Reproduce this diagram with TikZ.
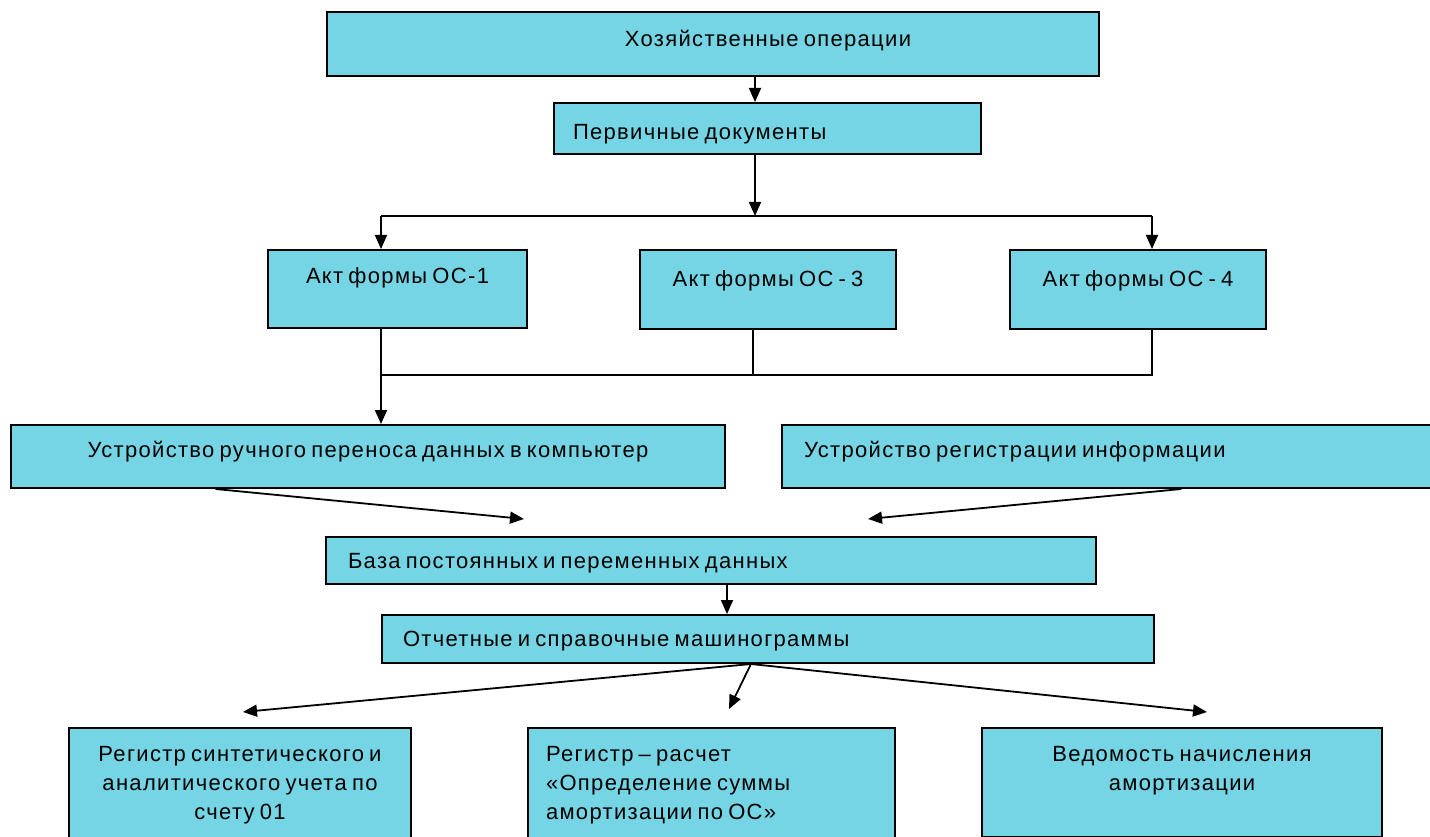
\documentclass[tikz,border=0pt]{standalone}
\usepackage{fontspec}
\setmainfont{Liberation Sans}[WordSpace=0.7, LetterSpace=6]
\usetikzlibrary{arrows.meta,calc}

\definecolor{boxfill}{RGB}{117,213,228}
\tikzstyle{block}=[draw=black, fill=boxfill, line width=2pt, inner ysep=0pt, anchor=north west, font=\fontsize{22}{29}\selectfont]
\tikzstyle{link}=[line width=1.8pt]
\tikzstyle{flow}=[link, -{Triangle[length=14pt,width=12pt]}]

\begin{document}
\begin{tikzpicture}[x=1pt, y=-1pt]
\useasboundingbox (0,0) rectangle (1430,837);
\clip (0,0) rectangle (1430,837);

% top boxes
\node[block, minimum width=772pt, text height=34.5pt, text depth=29.5pt] (ops) at (326,11) {\hspace*{110pt}Хозяйственные операции};
\node[block, inner xsep=19pt, text width=389pt, align=flush left, text height=36.5pt, text depth=14.5pt] (docs) at (553,102) {Первичные документы};

% acts
\node[block, minimum width=259pt, text height=33.5pt, text depth=44.5pt] (act1) at (267,249) {Акт формы ОС-1};
\node[block, minimum width=256pt, text height=36.5pt, text depth=42.5pt] (act3) at (639,249) {Акт формы ОС - 3};
\node[block, minimum width=256pt, text height=36.5pt, text depth=42.5pt] (act4) at (1009,249) {Акт формы ОС - 4};

% devices
\node[block, minimum width=714pt, text height=32.5pt, text depth=30.5pt] (manual) at (10,424) {Устройство ручного переноса данных в компьютер};
\node[block, inner xsep=22pt, text width=615pt, align=flush left, text height=32.5pt, text depth=30.5pt] (record) at (781,424) {Устройство регистрации информации};

% data base and outputs
\node[block, inner xsep=22pt, text width=726pt, align=flush left, text height=31.5pt, text depth=15.5pt] (base) at (325,536) {База постоянных и переменных данных};
\node[block, inner xsep=21pt, text width=730pt, align=flush left, text height=31.5pt, text depth=16.5pt] (reports) at (381,614) {Отчетные и справочные машинограммы};

% registers
\node[block, inner ysep=18pt, inner xsep=10pt, text width=322pt, align=flush center] (ledger) at (68,727) {Регистр синтетического и\\аналитического учета по\\счету 01};
\node[block, inner ysep=18pt, inner xsep=18pt, text width=331pt, align=flush left] (calc) at (527,727) {Регистр – расчет\\«Определение суммы\\амортизации по ОС»};
\node[block, inner ysep=18pt, inner xsep=10pt, text width=380pt, align=flush center] (sheet) at (981,727) {Ведомость начисления\\амортизации\\ \mbox{}};

% connectors
\coordinate (fork) at (755,216);
\coordinate (forkL) at (381,216);
\coordinate (forkR) at (1152,216);
\draw[flow] (ops.south -| fork) -- (docs.north -| fork);
\draw[flow] (docs.south -| fork) -- (fork);
\draw[link] (forkL) -- (forkR);
\draw[flow] (forkL) -- (act1.north -| forkL);
\draw[flow] (forkR) -- (act4.north -| forkR);

\coordinate (joinL) at (381,375);
\coordinate (joinM) at (753,375);
\coordinate (joinR) at (1152,375);
\draw[link] (act3.south -| joinM) -- (joinM);
\draw[link] (act4.south -| joinR) -- (joinR) -- (joinL);
\draw[flow] (act1.south -| joinL) -- (manual.north -| joinL);

\coordinate (inL) at (524,519);
\coordinate (inR) at (868,519);
\draw[flow] ($(manual.south west)!0.287!(manual.south east)$) -- (inL);
\draw[flow] ($(record.south west)!0.6055!(record.south east)$) -- (inR);

\coordinate (drop) at (727,600);
\draw[flow] (base.south -| drop) -- (reports.north -| drop);

\coordinate (src) at ($(reports.south west)!0.478!(reports.south east)$);
\coordinate (toL) at (243,712);
\coordinate (toM) at (729,709);
\coordinate (toR) at (1207,712);
\draw[flow] (src) -- (toL);
\draw[flow] (src) -- (toM);
\draw[flow] (src) -- (toR);
\end{tikzpicture}
\end{document}
